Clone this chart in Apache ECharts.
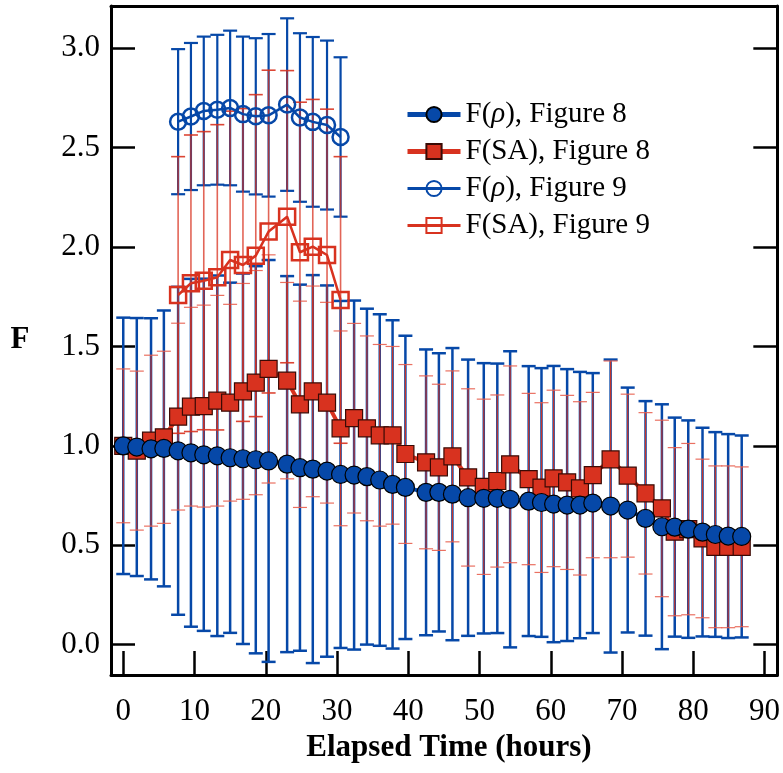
<!DOCTYPE html>
<html>
<head>
<meta charset="utf-8">
<script src="https://cdn.jsdelivr.net/npm/echarts@6/dist/echarts.min.js"></script>
<style>
html,body{margin:0;padding:0;background:#fff;}
#chart{width:783px;height:773px;}
</style>
</head>
<body>
<div id="chart"></div>
<script>
// ---- Data ----
var xTickLabels = ['0','10','20','30','40','50','60','70','80','90'];
var yTickLabels = ['0.0','0.5','1.0','1.5','2.0','2.5','3.0'];
var xTitle = 'Elapsed Time (hours)';
var yTitle = 'F';

// Figure 8 time points (hours)
var time8 = [0,1.9,3.9,5.7,7.7,9.5,11.3,13.2,15.0,16.8,18.6,20.4,23.0,24.8,26.6,28.6,30.5,32.4,34.2,36.0,37.8,39.6,42.5,44.3,46.2,48.4,50.6,52.5,54.3,56.9,58.7,60.4,62.3,64.1,65.9,68.4,70.8,73.3,75.6,77.4,79.3,81.3,83.1,84.9,86.8];
var rho8 = [1.000,0.994,0.985,0.987,0.975,0.965,0.955,0.950,0.940,0.935,0.930,0.924,0.908,0.890,0.883,0.873,0.856,0.853,0.845,0.828,0.806,0.791,0.766,0.766,0.757,0.739,0.736,0.736,0.731,0.722,0.715,0.707,0.702,0.702,0.712,0.697,0.677,0.635,0.593,0.591,0.581,0.566,0.554,0.546,0.544];
var rho8Err = [0.645,0.649,0.657,0.694,0.825,0.875,0.886,0.907,0.881,0.932,0.974,1.011,0.946,0.921,0.976,0.934,0.873,0.878,0.845,0.834,0.826,0.763,0.719,0.700,0.735,0.695,0.680,0.678,0.745,0.679,0.676,0.695,0.684,0.670,0.654,0.737,0.616,0.590,0.616,0.551,0.547,0.525,0.515,0.513,0.508];
var sa8 = [1.000,0.976,1.026,1.043,1.147,1.197,1.200,1.227,1.217,1.274,1.318,1.387,1.328,1.209,1.274,1.217,1.088,1.139,1.088,1.053,1.053,0.959,0.917,0.892,0.947,0.841,0.794,0.823,0.907,0.833,0.790,0.836,0.816,0.786,0.853,0.932,0.850,0.761,0.685,0.568,0.581,0.534,0.492,0.492,0.492];
var sa8Err = [0.387,0.400,0.430,0.433,0.470,0.500,0.508,0.530,0.495,0.543,0.564,0.574,0.494,0.519,0.530,0.505,0.490,0.477,0.465,0.457,0.447,0.450,0.435,0.418,0.430,0.446,0.441,0.433,0.495,0.431,0.427,0.444,0.438,0.436,0.416,0.495,0.410,0.406,0.444,0.423,0.431,0.399,0.407,0.407,0.402];

// Figure 9 time points (hours)
var time9 = [7.7,9.5,11.3,13.2,15.0,16.8,18.6,20.4,23.0,24.8,26.6,28.6,30.5];
var rho9 = [2.631,2.657,2.685,2.691,2.700,2.669,2.658,2.663,2.717,2.652,2.630,2.614,2.554];
var rho9Err = [0.365,0.370,0.374,0.377,0.389,0.390,0.393,0.409,0.434,0.424,0.427,0.425,0.401];
var sa9 = [1.759,1.818,1.831,1.848,1.935,1.910,1.957,2.078,2.153,1.974,2.002,1.960,1.734];
var sa9Err = [0.696,0.746,0.750,0.768,0.749,0.787,0.810,0.812,0.735,0.755,0.741,0.734,0.721];

var seriesNames = ['F(ρ), Figure 8','F(SA), Figure 8','F(ρ), Figure 9','F(SA), Figure 9'];

// ---- Styling ----
var BLUE = '#0648a8';
var RED = '#d8321f';
var FONT = '"Liberation Serif", "DejaVu Serif", serif';
var CLEAR = 'rgba(255,255,255,0)';

function pts(t, v) { return t.map(function (x, i) { return [x, v[i]]; }); }
function errPts(t, v, e) { return t.map(function (x, i) { return [x, v[i] - e[i], v[i] + e[i]]; }); }

function errorSeries(data, color, width, capColor, capHalf, z) {
  return {
    type: 'custom',
    silent: true,
    z: z,
    data: data,
    encode: { x: 0, y: [1, 2] },
    renderItem: function (params, api) {
      var x = api.value(0);
      var lo = api.coord([x, api.value(1)]);
      var hi = api.coord([x, api.value(2)]);
      var st = { stroke: color, lineWidth: width };
      var cst = { stroke: capColor, lineWidth: width };
      return {
        type: 'group',
        children: [
          { type: 'line', shape: { x1: lo[0], y1: lo[1], x2: hi[0], y2: hi[1] }, style: st },
          { type: 'line', shape: { x1: lo[0] - capHalf, y1: lo[1], x2: lo[0] + capHalf, y2: lo[1] }, style: cst },
          { type: 'line', shape: { x1: hi[0] - capHalf, y1: hi[1], x2: hi[0] + capHalf, y2: hi[1] }, style: cst }
        ]
      };
    }
  };
}

function legendFmt(name) {
  if (name.indexOf('ρ') >= 0) {
    var parts = name.split('ρ');
    return '{n|' + parts[0] + '}{i|ρ}{n|' + parts[1] + '}';
  }
  return '{n|' + name + '}';
}

var chart = echarts.init(document.getElementById('chart'), null, { renderer: 'canvas' });

var axisCommonX = {
  type: 'value', min: -1.72, max: 91.8, minInterval: 10, maxInterval: 10,
  splitLine: { show: false }
};
var axisCommonY = {
  type: 'value', min: -0.153, max: 3.213, minInterval: 0.5, maxInterval: 0.5,
  splitLine: { show: false }
};

function xLabel(v) {
  var r = Math.round(v);
  if (Math.abs(v - r) > 1e-6 || r % 10 !== 0) return '';
  return xTickLabels[r / 10] || '';
}
function yLabel(v) {
  var k = Math.round(v / 0.5);
  if (Math.abs(v - k * 0.5) > 1e-6) return '';
  return yTickLabels[k] || '';
}

var option = {
  backgroundColor: '#ffffff',
  animation: false,
  grid: { left: 111, right: 5, top: 6, bottom: 98, containLabel: false },
  xAxis: [
    Object.assign({}, axisCommonX, {
      position: 'bottom',
      axisLine: { show: true, onZero: false, lineStyle: { color: '#000', width: 3 } },
      axisTick: { show: true, inside: true, length: 24, lineStyle: { color: '#000', width: 2.5 } },
      axisLabel: { show: true, margin: 21, color: '#000', fontFamily: FONT, fontSize: 31, formatter: xLabel }
    }),
    Object.assign({}, axisCommonX, {
      position: 'top',
      axisLine: { show: true, onZero: false, lineStyle: { color: '#000', width: 3 } },
      axisTick: { show: false }, axisLabel: { show: false }
    })
  ],
  yAxis: [
    Object.assign({}, axisCommonY, {
      position: 'left',
      axisLine: { show: true, onZero: false, lineStyle: { color: '#000', width: 3 } },
      axisTick: { show: true, inside: true, length: 24, lineStyle: { color: '#000', width: 2.5 } },
      axisLabel: { show: true, margin: 11, color: '#000', fontFamily: FONT, fontSize: 31, formatter: yLabel }
    }),
    Object.assign({}, axisCommonY, {
      position: 'right',
      axisLine: { show: true, onZero: false, lineStyle: { color: '#000', width: 3 } },
      axisTick: { show: true, inside: true, length: 24, lineStyle: { color: '#000', width: 2.5 } },
      axisLabel: { show: false }
    })
  ],
  graphic: [
    { type: 'text', x: 20, y: 340, style: { text: yTitle, fill: '#000', font: 'bold 31px ' + FONT, textAlign: 'center', textVerticalAlign: 'middle' } },
    { type: 'text', x: 449, y: 748, style: { text: xTitle, fill: '#000', font: 'bold 31px ' + FONT, textAlign: 'center', textVerticalAlign: 'middle' } }
  ],
  legend: {
    data: [
      { name: seriesNames[0], lineStyle: { width: 5, color: BLUE } },
      { name: seriesNames[1], lineStyle: { width: 5, color: RED } },
      { name: seriesNames[2], lineStyle: { width: 3, color: BLUE } },
      { name: seriesNames[3], lineStyle: { width: 3, color: RED } }
    ],
    orient: 'vertical',
    left: 400, top: 95,
    itemWidth: 53, itemHeight: 19, itemGap: 8,
    formatter: legendFmt,
    textStyle: {
      color: '#000', fontFamily: FONT, fontSize: 29, padding: [0, 0, 0, 0],
      rich: {
        n: { fontFamily: FONT, fontSize: 29, color: '#000' },
        i: { fontFamily: FONT, fontSize: 29, fontStyle: 'italic', color: '#000' }
      }
    }
  },
  series: [
    errorSeries(errPts(time8, rho8, rho8Err), BLUE, 2.5, BLUE, 7, 1),
    errorSeries(errPts(time8, sa8, sa8Err), 'rgba(216,50,31,0.9)', 1.2, 'rgba(232,96,80,0.9)', 7, 2),
    errorSeries(errPts(time9, rho9, rho9Err), BLUE, 2.2, BLUE, 7, 3),
    errorSeries(errPts(time9, sa9, sa9Err), 'rgba(216,50,31,0.75)', 1.6, 'rgba(216,50,31,0.9)', 7, 4),
    {
      name: seriesNames[1], type: 'line', z: 5, data: pts(time8, sa8),
      symbol: 'rect', symbolSize: 17,
      lineStyle: { color: RED, width: 4 },
      itemStyle: { color: RED, borderColor: '#3a0a05', borderWidth: 1.2 }
    },
    {
      name: seriesNames[0], type: 'line', z: 6, data: pts(time8, rho8),
      symbol: 'circle', symbolSize: 18,
      lineStyle: { color: BLUE, width: 4 },
      itemStyle: { color: BLUE, borderColor: '#000', borderWidth: 1.2 }
    },
    {
      name: seriesNames[2], type: 'line', z: 7, data: pts(time9, rho9),
      symbol: 'circle', symbolSize: 16,
      lineStyle: { color: BLUE, width: 2.5 },
      itemStyle: { color: CLEAR, borderColor: BLUE, borderWidth: 2.5 }
    },
    {
      name: seriesNames[3], type: 'line', z: 8, data: pts(time9, sa9),
      symbol: 'rect', symbolSize: 16,
      lineStyle: { color: RED, width: 2.5 },
      itemStyle: { color: CLEAR, borderColor: RED, borderWidth: 2.5 }
    }
  ]
};
chart.setOption(option);
</script>
</body>
</html>
